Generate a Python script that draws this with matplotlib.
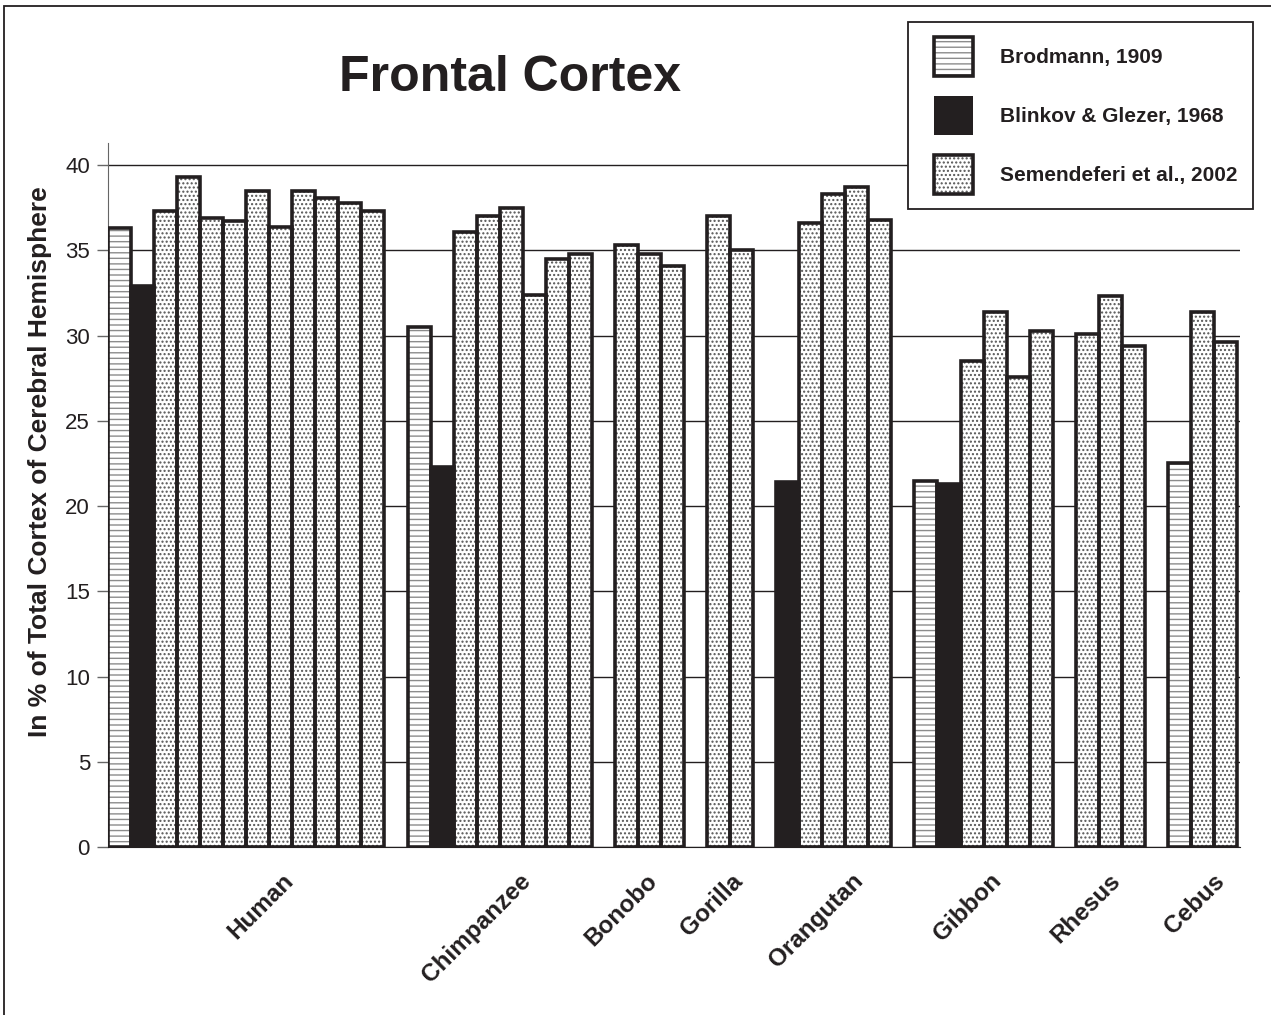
import matplotlib
matplotlib.use('Agg')
import matplotlib.pyplot as plt
from matplotlib.patches import Patch, Rectangle
from matplotlib.legend_handler import HandlerTuple, HandlerPatch

plt.rcParams['font.family'] = ['Liberation Sans', 'DejaVu Sans']
plt.rcParams['hatch.linewidth'] = 1.0

# values (% of total cortex)
species = ['Human', 'Chimpanzee', 'Bonobo', 'Gorilla', 'Orangutan', 'Gibbon', 'Rhesus', 'Cebus']
brodmann = [36.3, 30.5, None, None, None, 21.5, None, 22.5]
blinkov = [32.9, 22.3, None, None, 21.4, 21.3, None, None]
semendeferi = [
    [37.3, 39.3, 36.9, 36.7, 38.5, 36.4, 38.5, 38.1, 37.8, 37.3],
    [36.1, 37.0, 37.5, 32.4, 34.5, 34.8],
    [35.3, 34.8, 34.1],
    [37.0, 35.0],
    [36.6, 38.3, 38.7, 36.8],
    [28.5, 31.4, 27.6, 30.3],
    [30.1, 32.3, 29.4],
    [31.4, 29.6],
]
series_names = ['Brodmann, 1909', 'Blinkov & Glezer, 1968', 'Semendeferi et al., 2002']

# where the rotated species names end, relative to the group centre (in bar widths)
label_shift = [1.9, 1.2, 0.2, 0.4, 1.1, 0.6, 0.3, 0.8]

ink = '#231f20'

# lay the bars out one slot each, one empty slot between species
xb, hb, xk, hk, xs, hs = [], [], [], [], [], []
ticks = []
pos = 0
for i in range(len(species)):
    start = pos
    if brodmann[i] is not None:
        xb.append(pos); hb.append(brodmann[i]); pos += 1
    if blinkov[i] is not None:
        xk.append(pos); hk.append(blinkov[i]); pos += 1
    for v in semendeferi[i]:
        xs.append(pos); hs.append(v); pos += 1
    ticks.append((start + pos) / 2 + label_shift[i])
    pos += 1

fig = plt.figure(figsize=(12.71, 10.15), dpi=100)
ax = fig.add_axes([108 / 1271, 168 / 1015, 1132 / 1271, 704 / 1015])

# hatch layer (grey pattern), then the heavy black outlines on top
ax.bar(xb, hb, width=1, align='edge', color='white', edgecolor='#8c8c8c', hatch='---', linewidth=0, zorder=2)
ax.bar(xs, hs, width=1, align='edge', color='white', edgecolor='#555555', hatch='....', linewidth=0, zorder=2)
ax.bar(xk, hk, width=1, align='edge', color=ink, linewidth=0, zorder=2)
for xx, hh in [(xb, hb), (xk, hk), (xs, hs)]:
    ax.bar(xx, hh, width=1, align='edge', fill=False, edgecolor=ink, linewidth=2.6, zorder=3)

ax.set_xlim(0, 49.13)
ax.set_ylim(0, 41.3)
ax.set_yticks(range(0, 41, 5))
ax.yaxis.grid(True, color=ink, linewidth=1.0)
ax.set_axisbelow(True)
ax.tick_params(axis='y', labelsize=16, length=8, width=1, color='#666666', pad=5, labelcolor=ink)
for s in ['top', 'right']:
    ax.spines[s].set_visible(False)
ax.spines['left'].set_color('#666666')
ax.spines['bottom'].set_color(ink)

ax.set_xticks(ticks)
ax.set_xticklabels(species, fontsize=17.5, fontweight='bold', color=ink)
ax.tick_params(axis='x', length=0, pad=22)
plt.setp(ax.get_xticklabels(), rotation=45, ha='right', va='center', rotation_mode='anchor')

fig.text(510 / 1271, 1 - 78 / 1015, 'Frontal Cortex', fontsize=36, fontweight='bold',
         ha='center', va='center', color=ink)
fig.text(40 / 1271, 1 - 462 / 1015, 'In % of Total Cortex of Cerebral Hemisphere', fontsize=19,
         fontweight='bold', rotation=90, ha='center', va='center', color=ink)


# legend swatches: square, pushed a little to the right inside the handle box
def swatch(legend, orig_handle, xdescent, ydescent, width, height, fontsize):
    shift = width - height
    return Rectangle((-xdescent + shift, -ydescent), height, height)


h1 = (Patch(facecolor='white', edgecolor='#8c8c8c', hatch='---', linewidth=0),
      Patch(fill=False, edgecolor=ink, linewidth=2.6))
h2 = Patch(facecolor=ink, edgecolor=ink, linewidth=0)
h3 = (Patch(facecolor='white', edgecolor='#555555', hatch='....', linewidth=0),
      Patch(fill=False, edgecolor=ink, linewidth=2.6))
fs_px = 15 * 100 / 72
leg = fig.legend([h1, h2, h3], series_names, loc='upper left',
                 bbox_to_anchor=(908 / 1271, 1 - 22 / 1015), borderaxespad=0,
                 handler_map={tuple: HandlerTuple(ndivide=1), Patch: HandlerPatch(patch_func=swatch)},
                 prop={'size': 15, 'weight': 'bold'}, handlelength=50 / fs_px, handleheight=2.5,
                 labelspacing=20 / fs_px, handletextpad=27 / fs_px, borderpad=15 / fs_px,
                 fancybox=False, framealpha=1, edgecolor=ink)
leg.get_frame().set_linewidth(1.3)
for t in leg.get_texts():
    t.set_color(ink)

# outer border of the whole picture
fig.add_artist(Rectangle((4 / 1271, -0.05), 1.1, 1.05 - 6 / 1015, transform=fig.transFigure,
                         fill=False, edgecolor=ink, linewidth=1.3))

fig.savefig('out.png', dpi=100)
